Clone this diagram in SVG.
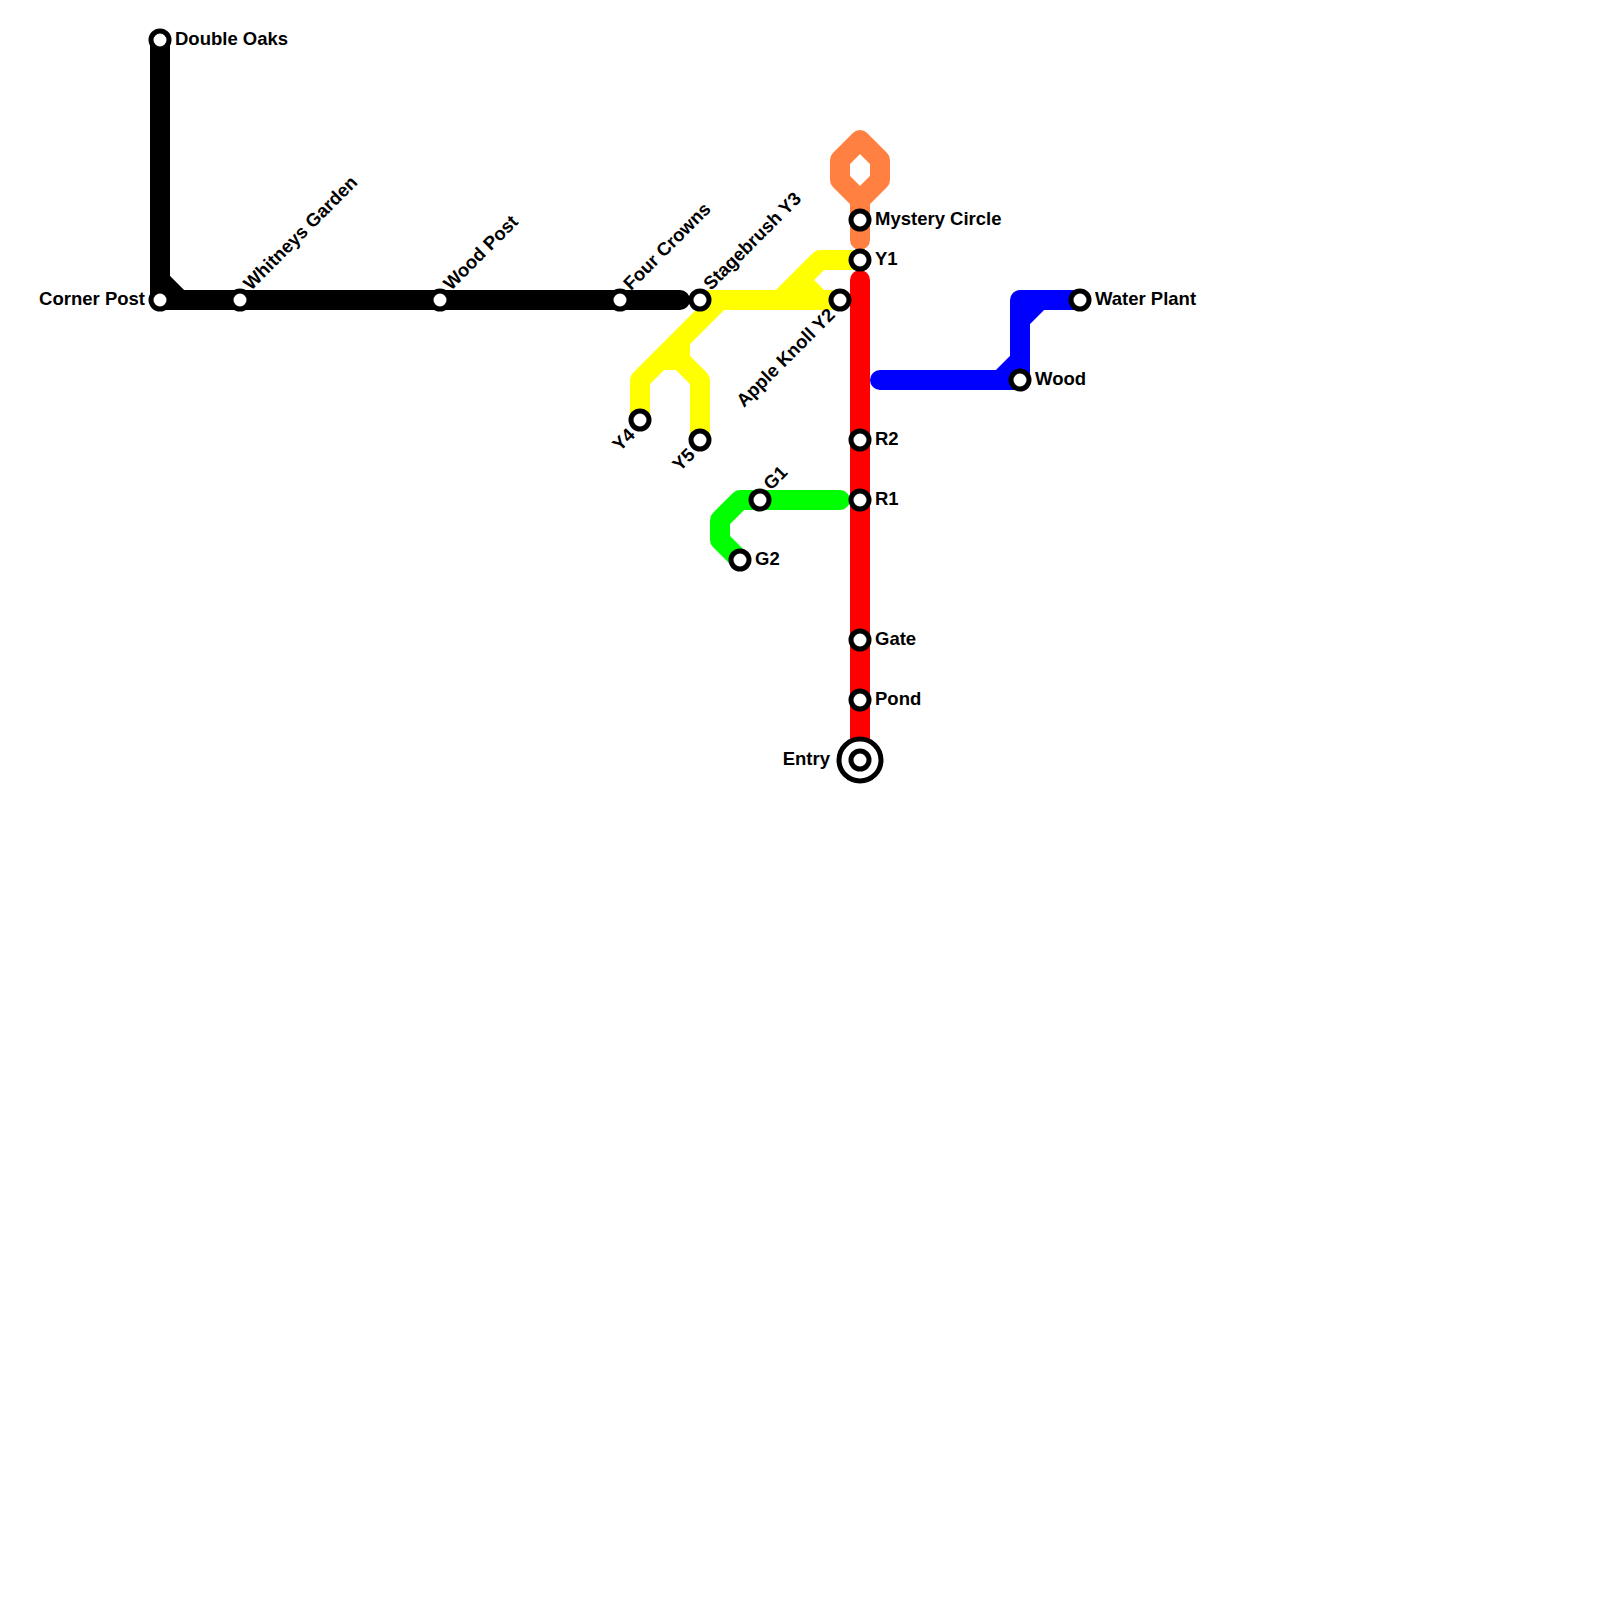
<svg xmlns="http://www.w3.org/2000/svg" width="1600" height="1600" viewBox="0 0 1600 1600">
<style>
.l{fill:none;stroke-width:20;stroke-linecap:round;stroke-linejoin:round}
.s{fill:#fff;stroke:#000;stroke-width:5}
.r{fill:#fff;stroke:#000;stroke-width:5}
text{font-family:"Liberation Sans",Arial,sans-serif;font-weight:bold;font-size:18.5px;fill:#000}
.e{text-anchor:end}
</style>
<rect width="1600" height="1600" fill="#fff"/>
<g id="connectors">
<path class="l" stroke="#ff8040" d="M860 240V200L840 180V160L860 140L880 160V180L860 200"/>
<path class="l" stroke="#ffff00" d="M860 260H820L780 300M700 300H840L820 300L800 280L820 260M640 420V380L720 300M680 340V360L700 380V440M660 360H680M640 380L660 360"/>
<path class="l" stroke="#000" d="M160 40V300H680M160 280L180 300"/>
<path class="l" stroke="#ff0000" d="M860 280V760"/>
<path class="l" stroke="#0000ff" d="M880 380H1020V300H1080M1000 380L1020 360M1020 320L1040 300"/>
<path class="l" stroke="#00ff00" d="M840 500H740L720 520V540L740 560"/>
</g>
<g id="double-oaks"><circle class="s" cx="160" cy="40" r="9"/><text x="175" y="45">Double Oaks</text></g>
<g id="corner-post"><circle class="s" cx="160" cy="300" r="9"/><text class="e" x="145" y="305">Corner Post</text></g>
<g id="whitneys-garden"><circle class="s" cx="240" cy="300" r="9"/><text transform="translate(251 291) rotate(-45)">Whitneys Garden</text></g>
<g id="wood-post"><circle class="s" cx="440" cy="300" r="9"/><text transform="translate(451 291) rotate(-45)">Wood Post</text></g>
<g id="four-crowns"><circle class="s" cx="620" cy="300" r="9"/><text transform="translate(631 291) rotate(-45)">Four Crowns</text></g>
<g id="stagebrush-y3"><circle class="s" cx="700" cy="300" r="9"/><text transform="translate(711 291) rotate(-45)">Stagebrush Y3</text></g>
<g id="apple-knoll-y2"><circle class="s" cx="840" cy="300" r="9"/><text class="e" transform="translate(836 316) rotate(-45)">Apple Knoll Y2</text></g>
<g id="y1"><circle class="s" cx="860" cy="260" r="9"/><text x="875" y="265">Y1</text></g>
<g id="mystery-circle"><circle class="s" cx="860" cy="220" r="9"/><text x="875" y="225">Mystery Circle</text></g>
<g id="y4"><circle class="s" cx="640" cy="420" r="9"/><text class="e" transform="translate(636 436) rotate(-45)">Y4</text></g>
<g id="y5"><circle class="s" cx="700" cy="440" r="9"/><text class="e" transform="translate(696 456) rotate(-45)">Y5</text></g>
<g id="r2"><circle class="s" cx="860" cy="440" r="9"/><text x="875" y="445">R2</text></g>
<g id="r1"><circle class="s" cx="860" cy="500" r="9"/><text x="875" y="505">R1</text></g>
<g id="g1"><circle class="s" cx="760" cy="500" r="9"/><text transform="translate(771 491) rotate(-45)">G1</text></g>
<g id="g2"><circle class="s" cx="740" cy="560" r="9"/><text x="755" y="565">G2</text></g>
<g id="gate"><circle class="s" cx="860" cy="640" r="9"/><text x="875" y="645">Gate</text></g>
<g id="pond"><circle class="s" cx="860" cy="700" r="9"/><text x="875" y="705">Pond</text></g>
<g id="entry"><circle class="r" cx="860" cy="760" r="21"/><circle class="s" cx="860" cy="760" r="9"/><text class="e" x="830" y="765">Entry</text></g>
<g id="wood"><circle class="s" cx="1020" cy="380" r="9"/><text x="1035" y="385">Wood</text></g>
<g id="water-plant"><circle class="s" cx="1080" cy="300" r="9"/><text x="1095" y="305">Water Plant</text></g>
</svg>
